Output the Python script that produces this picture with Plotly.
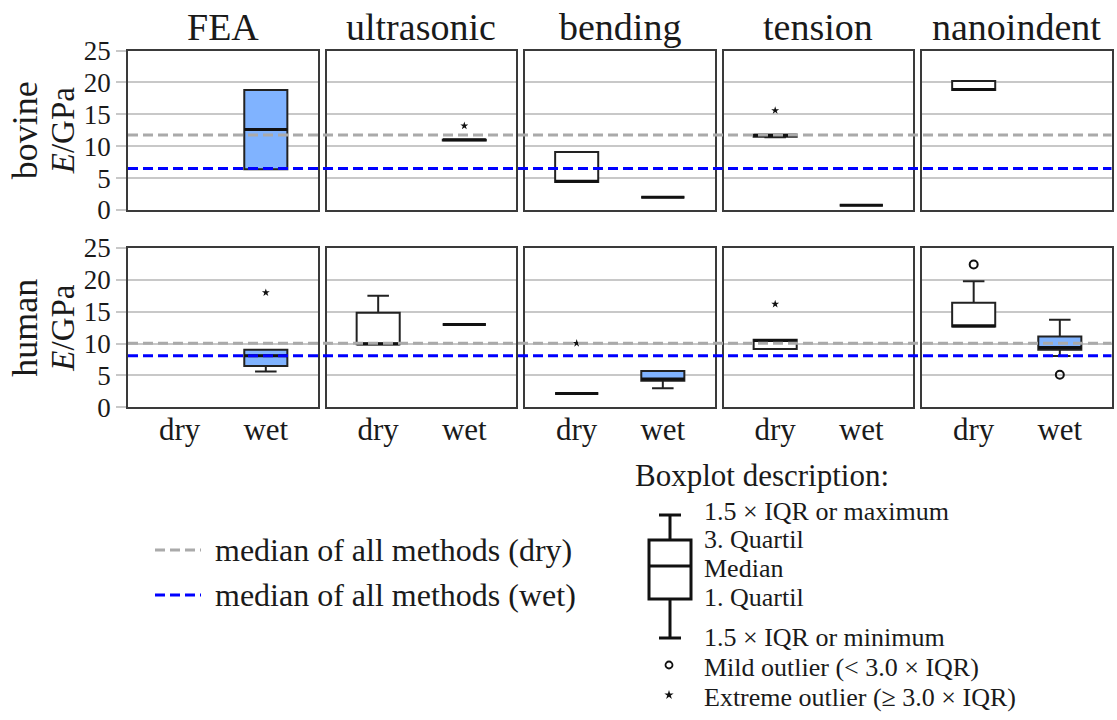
import plotly.graph_objects as go

# ---------------- data ----------------
methods = ["FEA", "ultrasonic", "bending", "tension", "nanoindent"]
conditions = ["dry", "wet"]
species = ["bovine", "human"]
y_ticks = [0, 5, 10, 15, 20, 25]

# box statistics per method (None = no data)
bovine_dry_lf = [None, None, 4.4, 11.4, 18.8]
bovine_dry_q1 = [None, None, 4.4, 11.5, 18.8]
bovine_dry_med = [None, None, 4.5, 11.7, 18.9]
bovine_dry_q3 = [None, None, 9.1, 11.8, 20.2]
bovine_dry_uf = [None, None, 9.1, 11.8, 20.2]

bovine_wet_lf = [6.4, 10.9, 2.0, 0.75, None]
bovine_wet_q1 = [6.4, 10.9, 2.0, 0.75, None]
bovine_wet_med = [12.6, 11.0, 2.0, 0.75, None]
bovine_wet_q3 = [18.8, 11.0, 2.0, 0.75, None]
bovine_wet_uf = [18.8, 11.0, 2.0, 0.75, None]

human_dry_lf = [None, 9.9, 2.15, 9.15, 12.7]
human_dry_q1 = [None, 9.9, 2.15, 9.15, 12.7]
human_dry_med = [None, 9.95, 2.15, 10.5, 12.75]
human_dry_q3 = [None, 14.85, 2.15, 10.6, 16.4]
human_dry_uf = [None, 17.5, 2.15, 10.6, 19.8]

human_wet_lf = [5.6, 13.0, 3.0, None, 8.05]
human_wet_q1 = [6.5, 13.0, 4.15, None, 9.05]
human_wet_med = [8.1, 13.0, 4.45, None, 9.4]
human_wet_q3 = [9.05, 13.0, 5.7, None, 11.1]
human_wet_uf = [9.05, 13.0, 5.7, None, 13.75]

# outliers: (method index, value)
bovine_dry_extreme = [(3, 15.6)]
bovine_wet_extreme = [(1, 13.2)]
human_dry_extreme = [(2, 10.05), (3, 16.2)]
human_dry_mild = [(4, 22.4)]
human_wet_extreme = [(0, 18.0)]
human_wet_mild = [(4, 5.1)]
bovine_dry_mild = []
bovine_wet_mild = []

# median of all methods
median_all_dry = [11.75, 10.05]   # bovine, human
median_all_wet = [6.5, 8.1]

# ---------------- layout helpers ----------------
W, H = 1117, 720
def fx(p):
    return p / W
def fy(p):
    return 1 - p / H

FONT = "Liberation Serif"
BLUE_FILL = "rgb(128,179,255)"
col_x0 = [128 + 198.5 * c for c in range(5)]
col_w = 189.5
row_y = [(50.5, 210.0), (248.0, 407.3)]

stats = {
    ("bovine", "dry"): (bovine_dry_lf, bovine_dry_q1, bovine_dry_med, bovine_dry_q3, bovine_dry_uf, bovine_dry_mild, bovine_dry_extreme),
    ("bovine", "wet"): (bovine_wet_lf, bovine_wet_q1, bovine_wet_med, bovine_wet_q3, bovine_wet_uf, bovine_wet_mild, bovine_wet_extreme),
    ("human", "dry"): (human_dry_lf, human_dry_q1, human_dry_med, human_dry_q3, human_dry_uf, human_dry_mild, human_dry_extreme),
    ("human", "wet"): (human_wet_lf, human_wet_q1, human_wet_med, human_wet_q3, human_wet_uf, human_wet_mild, human_wet_extreme),
}

fig = go.Figure()
layout = dict(
    width=W, height=H, margin=dict(l=0, r=0, t=0, b=0, pad=0, autoexpand=False),
    paper_bgcolor="white", plot_bgcolor="rgba(0,0,0,0)", showlegend=False,
    font=dict(family=FONT, color="#1a1a1a"),
)

BOX_W = 0.5
for r, sp in enumerate(species):
    for c, m in enumerate(methods):
        k = r * 5 + c + 1
        xa = "x" if k == 1 else f"x{k}"
        ya = "y" if k == 1 else f"y{k}"
        layout["xaxis" if k == 1 else f"xaxis{k}"] = dict(
            domain=[fx(col_x0[c]), fx(col_x0[c] + col_w)], anchor=ya, automargin=False,
            range=[-0.6, 1.6], tickvals=[0, 1], ticktext=conditions,
            showticklabels=(r == 1), ticks="", showgrid=False, zeroline=False,
            showline=True, mirror=True, linecolor="#3a3a3a", linewidth=1.5,
            tickfont=dict(size=31, family=FONT, color="#1a1a1a"),
            ticklabelstandoff=-6,
        )
        layout["yaxis" if k == 1 else f"yaxis{k}"] = dict(
            domain=[fy(row_y[r][1]), fy(row_y[r][0])], anchor=xa, automargin=False,
            range=[0, 25], tickvals=y_ticks, showticklabels=(c == 0),
            ticks="outside" if c == 0 else "", ticklen=10, tickcolor="#c8c8c8", tickwidth=1.5,
            showgrid=True, gridcolor="#c8c8c8", gridwidth=1.5, zeroline=False,
            showline=True, mirror=True, linecolor="#3a3a3a", linewidth=1.5,
            tickfont=dict(size=27, family=FONT, color="#1a1a1a"),
        )
        for ci, cond in enumerate(conditions):
            lf, q1, med, q3, uf, mild, extreme = stats[(sp, cond)]
            if med[c] is None:
                continue
            fig.add_trace(go.Box(
                x=[ci], q1=[q1[c]], median=[med[c]], q3=[q3[c]],
                lowerfence=[lf[c]], upperfence=[uf[c]],
                width=BOX_W, whiskerwidth=0.5, boxpoints=False,
                fillcolor=BLUE_FILL if cond == "wet" else "white",
                line=dict(color="#222222", width=2),
                xaxis=xa, yaxis=ya, hoverinfo="skip",
            ))
            fig.add_trace(go.Scatter(
                x=[ci - BOX_W / 2, ci + BOX_W / 2], y=[med[c], med[c]], mode="lines",
                line=dict(color="#111111", width=3), xaxis=xa, yaxis=ya, hoverinfo="skip",
            ))
            mv = [v for (i, v) in mild if i == c]
            if mv:
                fig.add_trace(go.Scatter(
                    x=[ci] * len(mv), y=mv, mode="markers",
                    marker=dict(symbol="circle-open", size=8, color="#111111", line=dict(width=2)),
                    xaxis=xa, yaxis=ya, hoverinfo="skip",
                ))
            ev = [v for (i, v) in extreme if i == c]
            if ev:
                fig.add_trace(go.Scatter(
                    x=[ci] * len(ev), y=ev, mode="markers",
                    marker=dict(symbol="star", size=6, color="#111111"),
                    xaxis=xa, yaxis=ya, hoverinfo="skip",
                ))

shapes = []
for r in range(2):
    yref = "y" if r == 0 else "y6"
    for val, colr in ((median_all_dry[r], "#aaaaaa"), (median_all_wet[r], "#0000ff")):
        shapes.append(dict(type="line", xref="paper", yref=yref,
                           x0=fx(128), x1=fx(1111.5), y0=val, y1=val, layer="above",
                           line=dict(color=colr, width=3, dash="10px,5px")))

annotations = []
for c, m in enumerate(methods):
    annotations.append(dict(text=m, x=fx(col_x0[c] + col_w / 2), y=fy(27), xref="paper", yref="paper",
                            xanchor="center", yanchor="middle", showarrow=False,
                            font=dict(size=38, family=FONT, color="#1a1a1a")))
for r, sp in enumerate(species):
    yc = (row_y[r][0] + row_y[r][1]) / 2
    annotations.append(dict(text=sp, x=fx(25), y=fy(yc), xref="paper", yref="paper", textangle=-90,
                            xanchor="center", yanchor="middle", showarrow=False,
                            font=dict(size=36, family=FONT, color="#1a1a1a")))
    annotations.append(dict(text="<i>E</i>/GPa", x=fx(63), y=fy(yc), xref="paper", yref="paper", textangle=-90,
                            xanchor="center", yanchor="middle", showarrow=False,
                            font=dict(size=33, family=FONT, color="#1a1a1a")))

# legend for reference lines
LEG_FONT = dict(size=32, family=FONT, color="#1a1a1a")
HEAD_FONT = dict(size=31, family=FONT, color="#1a1a1a")
DESC_FONT = dict(size=26, family=FONT, color="#1a1a1a")
for yy, colr, lab in ((550, "#aaaaaa", "median of all methods (dry)"), (595, "#0000ff", "median of all methods (wet)")):
    shapes.append(dict(type="line", xref="paper", yref="paper", x0=fx(155), x1=fx(201), y0=fy(yy), y1=fy(yy),
                       line=dict(color=colr, width=3, dash="10px,5px")))
    annotations.append(dict(text=lab, x=fx(213), y=fy(yy), xref="paper", yref="paper",
                            xanchor="left", yanchor="middle", showarrow=False, font=LEG_FONT))

# boxplot description
annotations.append(dict(text="Boxplot description:", x=fx(633), y=fy(475), xref="paper", yref="paper",
                        xanchor="left", yanchor="middle", showarrow=False, font=HEAD_FONT))
desc = [(511, "1.5 × IQR or maximum"), (539, "3. Quartil"), (568, "Median"), (597, "1. Quartil"),
        (637, "1.5 × IQR or minimum"), (667, "Mild outlier (< 3.0 × IQR)"), (697, "Extreme outlier (≥ 3.0 × IQR)")]
for yy, t in desc:
    annotations.append(dict(text=t, x=fx(702), y=fy(yy), xref="paper", yref="paper",
                            xanchor="left", yanchor="middle", showarrow=False, font=DESC_FONT))
gl = dict(color="#111111", width=3)
def pline(x0, y0, x1, y1):
    shapes.append(dict(type="line", xref="paper", yref="paper", x0=fx(x0), x1=fx(x1), y0=fy(y0), y1=fy(y1), line=gl))
pline(659, 515, 681, 515)
pline(670, 515, 670, 540)
shapes.append(dict(type="rect", xref="paper", yref="paper", x0=fx(649), x1=fx(691), y0=fy(599), y1=fy(540), line=gl))
pline(649, 566, 691, 566)
pline(670, 599, 670, 638)
pline(659, 638, 681, 638)

fig.add_trace(go.Scatter(x=[fx(669)], y=[fy(665)], mode="markers", xaxis="x11", yaxis="y11",
                         marker=dict(symbol="circle-open", size=7, color="#111111", line=dict(width=1.8)), hoverinfo="skip"))
fig.add_trace(go.Scatter(x=[fx(669)], y=[fy(695)], mode="markers", xaxis="x11", yaxis="y11",
                         marker=dict(symbol="star", size=7, color="#111111"), hoverinfo="skip"))
layout["xaxis11"] = dict(domain=[0, 1], range=[0, 1], visible=False, anchor="y11", fixedrange=True, automargin=False)
layout["yaxis11"] = dict(domain=[0, 1], range=[0, 1], visible=False, anchor="x11", fixedrange=True, automargin=False)

layout["shapes"] = shapes
layout["annotations"] = annotations
fig.update_layout(**layout)
fig.write_html("out.html")
